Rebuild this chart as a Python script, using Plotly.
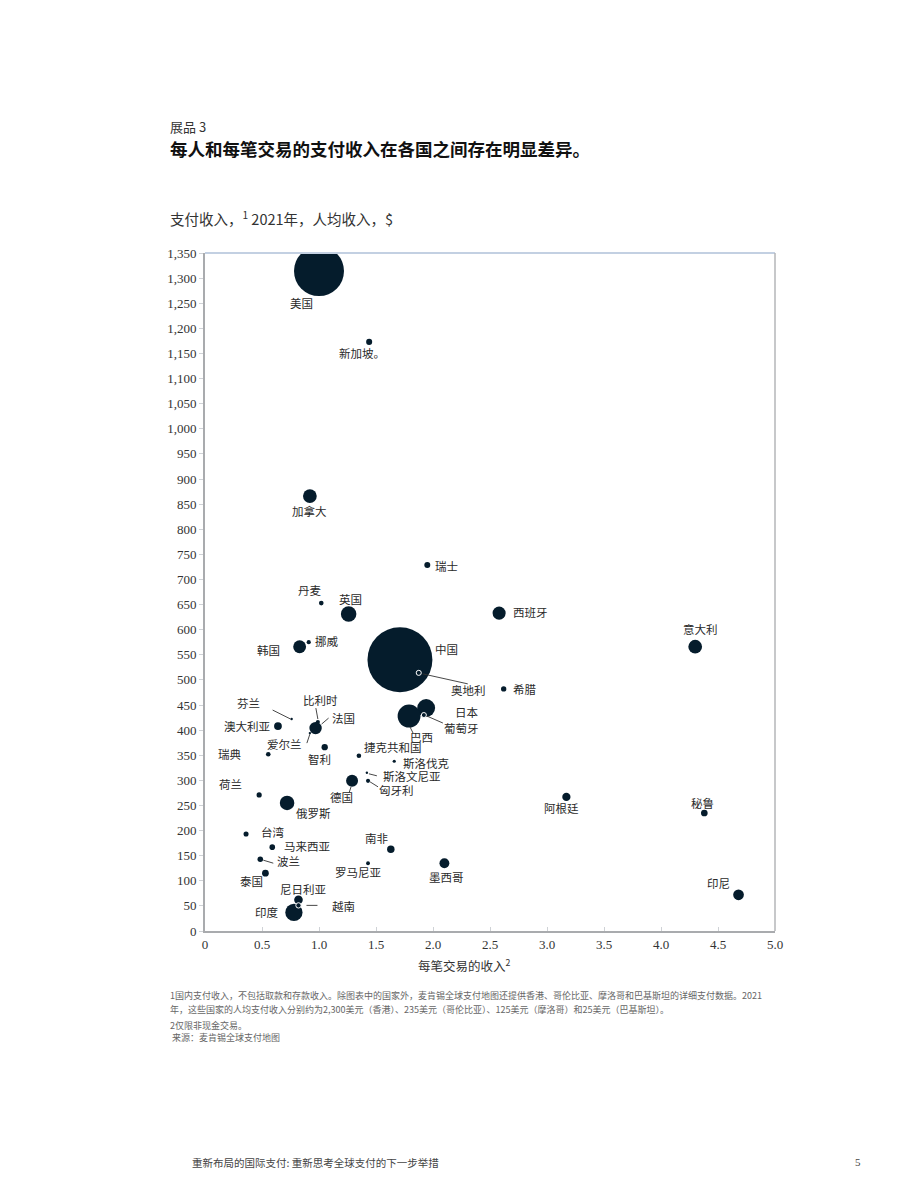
import plotly.graph_objects as go

# revenue per transaction ($), payments revenue per capita ($, 2021), total payments revenue ($bn, bubble size)
countries = ['美国', '新加坡。', '加拿大', '瑞士', '丹麦', '英国', '西班牙', '意大利', '挪威', '韩国',
             '中国', '奥地利', '希腊', '日本', '巴西', '葡萄牙', '芬兰', '比利时', '法国', '澳大利亚',
             '爱尔兰', '智利', '瑞典', '捷克共和国', '斯洛伐克', '斯洛文尼亚', '匈牙利', '德国', '荷兰', '俄罗斯',
             '台湾', '马来西亚', '南非', '波兰', '罗马尼亚', '墨西哥', '泰国', '尼日利亚', '越南', '印度',
             '阿根廷', '秘鲁', '印尼']
rev_per_tx = [1.00, 1.44, 0.92, 1.95, 1.02, 1.26, 2.58, 4.30, 0.91, 0.83,
              1.71, 1.875, 2.62, 1.94, 1.79, 1.92, 0.76, 0.99, 0.97, 0.64,
              0.92, 1.05, 0.555, 1.35, 1.66, 1.42, 1.43, 1.29, 0.475, 0.72,
              0.36, 0.59, 1.63, 0.485, 1.43, 2.10, 0.53, 0.82, 0.82, 0.78,
              3.17, 4.38, 4.68]
rev_per_capita = [1314, 1173, 866, 729, 653, 631, 633, 566, 575, 566,
                  540, 514, 482, 444, 428, 430, 422, 416, 404, 408,
                  394, 366, 352, 349, 338, 315, 299, 299, 271, 255,
                  193, 167, 163, 143, 135, 135, 115, 62, 51, 37,
                  267, 235, 72]
total_rev = [437, 6.4, 33, 6.3, 3.8, 42, 30, 33, 3.1, 29,
             738, 4.6, 5.0, 56, 92, 4.4, 1.0, 3.0, 27, 10.6,
             1.0, 7.0, 3.7, 3.7, 1.8, 0.7, 2.9, 25, 4.7, 37,
             4.5, 5.5, 9.8, 5.4, 2.6, 17, 8.0, 13, 5.0, 52,
             12, 7.8, 20]
hollow = ['奥地利', '葡萄牙', '越南']

x_ticks = [0, 0.5, 1.0, 1.5, 2.0, 2.5, 3.0, 3.5, 4.0, 4.5, 5.0]
x_ticktext = ['0', '0.5', '1.0', '1.5', '2.0', '2.5', '3.0', '3.5', '4.0', '4.5', '5.0']
y_ticks = list(range(0, 1351, 50))

NAVY = '#051c2c'
CJK = 'Noto Sans CJK SC'
NUM = 'Liberation Serif, Noto Sans CJK SC'

# label centre offset in screen pixels from the bubble centre
label_pos = {
    '美国': (-18, 32), '新加坡。': (-7, 11), '加拿大': (0, 15), '瑞士': (19, 1),
    '丹麦': (-11, -13), '英国': (2, -15), '西班牙': (31, -1), '意大利': (5, -18),
    '挪威': (18, -1), '韩国': (-31, 3), '中国': (47, -11), '奥地利': (50, 17),
    '希腊': (21, 0), '日本': (41, 4), '巴西': (12, 21), '葡萄牙': (38, 13),
    '芬兰': (-43, -16), '比利时': (3, -22), '法国': (28, -10), '澳大利亚': (-31, 0),
    '爱尔兰': (-25, 11), '智利': (-5, 12), '瑞典': (-38, 0), '捷克共和国': (34, -9),
    '斯洛伐克': (32, 2), '斯洛文尼亚': (45, 3), '匈牙利': (28, 9), '德国': (-11, 16),
    '荷兰': (-29, -11), '俄罗斯': (26, 10), '台湾': (27, -2), '马来西亚': (35, -1),
    '南非': (-14, -11), '波兰': (28, 2), '罗马尼亚': (-10, 9), '墨西哥': (2, 14),
    '泰国': (-14, 8), '尼日利亚': (5, -11), '越南': (45, 1), '印度': (-27, 0),
    '阿根廷': (-5, 11), '秘鲁': (-2, -10), '印尼': (-20, -12),
}
# leader lines: start/end offsets in screen pixels from the bubble centre
leaders = {
    '奥地利': (4, 1, 49, 11), '巴西': (1, 11, 4, 17), '葡萄牙': (3, 1, 19, 8),
    '芬兰': (-1, 0, -19, -9), '比利时': (0, -3, -2, -14), '法国': (6, -4, 13, -10),
    '爱尔兰': (0, 1, -3, 10), '斯洛文尼亚': (2, 1, 10, 3), '匈牙利': (2, 1, 10, 6),
    '德国': (-1, 6, -3, 12), '波兰': (3, 1, 13, 4), '越南': (8, 0, 19, 0),
}

SIZEREF = 0.35

fig = go.Figure()
solid = [i for i, c in enumerate(countries) if c not in hollow]
rings = [i for i, c in enumerate(countries) if c in hollow]
fig.add_trace(go.Scatter(
    x=[rev_per_tx[i] for i in solid],
    y=[rev_per_capita[i] for i in solid],
    text=[countries[i] for i in solid],
    mode='markers',
    marker=dict(size=[total_rev[i] for i in solid], sizemode='area', sizeref=SIZEREF,
                sizemin=1.2, color=NAVY, opacity=1, line=dict(width=0)),
    hoverinfo='text', showlegend=False))
fig.add_trace(go.Scatter(
    x=[rev_per_tx[i] for i in rings],
    y=[rev_per_capita[i] for i in rings],
    text=[countries[i] for i in rings],
    mode='markers',
    marker=dict(size=[total_rev[i] for i in rings], sizemode='area', sizeref=SIZEREF,
                color=NAVY, opacity=1, line=dict(width=1, color='#ffffff')),
    hoverinfo='text', showlegend=False))

for name, xv, yv in zip(countries, rev_per_tx, rev_per_capita):
    dx, dy = label_pos[name]
    fig.add_annotation(x=xv, y=yv, text=name, showarrow=False,
                       xanchor='center', yanchor='middle', xshift=dx, yshift=-dy,
                       font=dict(family=CJK, size=11.5, color='#2a2a2a'))
    if name in leaders:
        x0, y0, x1, y1 = leaders[name]
        fig.add_shape(type='line', xref='x', yref='y', xsizemode='pixel', ysizemode='pixel',
                      xanchor=xv, yanchor=yv, x0=x0, x1=x1, y0=-y0, y1=-y1,
                      line=dict(color='#333333', width=0.9))


def px(x):
    return (x - 205) / 570


def py(y):
    return (931 - y) / 678


texts = [
    ('展品 3', 168, 127, 13, '#333333'),
    ('<b>每人和每笔交易的支付收入在各国之间存在明显差异。</b>', 168, 148, 17.5, '#111111'),
    ('支付收入，<sup>1</sup> 2021年，人均收入，$', 168, 218, 14.5, '#333333'),
    ('1国内支付收入，不包括取款和存款收入。除图表中的国家外，麦肯锡全球支付地图还提供香港、哥伦比亚、摩洛哥和巴基斯坦的详细支付数据。2021',
     168, 995, 9, '#666666'),
    ('年，这些国家的人均支付收入分别约为2,300美元（香港）、235美元（哥伦比亚）、125美元（摩洛哥）和25美元（巴基斯坦）。',
     168, 1009, 9, '#666666'),
    ('2仅限非现金交易。', 168, 1025, 9, '#666666'),
    (' 来源：麦肯锡全球支付地图', 168, 1037, 9, '#666666'),
    ('重新布局的国际支付: 重新思考全球支付的下一步举措', 190, 1162, 10.5, '#444444'),
    ('5', 853, 1162, 11, '#444444'),
    ('每笔交易的收入<sup>2</sup>', 416, 966, 12.5, '#333333'),
]
for t, x0, y0, size, color in texts:
    fig.add_annotation(x=px(x0), y=py(y0), xref='paper', yref='paper', text=t,
                       showarrow=False, xanchor='left', yanchor='middle',
                       font=dict(family=NUM if t == '5' else CJK, size=size, color=color))

# plot frame: light top border, grey right border
fig.add_shape(type='line', xref='paper', yref='paper', x0=0, x1=1, y0=1, y1=1,
              line=dict(color='#c3d0e2', width=2))
fig.add_shape(type='line', xref='paper', yref='paper', x0=1, x1=1, y0=0, y1=1,
              line=dict(color='#b4b6b9', width=1.5))

# the page adds an 8px body margin, so the figure is slightly smaller than the window
fig.update_layout(
    width=904, height=1175,
    margin=dict(l=197, r=137, t=245, b=252),
    plot_bgcolor='white', paper_bgcolor='white',
    font=dict(family=NUM, size=13, color='#333333'),
    xaxis=dict(range=[0, 5], tickvals=x_ticks, ticktext=x_ticktext, showgrid=False,
               zeroline=False, showline=True, linecolor='#a9abae', linewidth=2,
               ticks='inside', ticklen=4, tickcolor='#cfd2d6', tickwidth=1,
               tickfont=dict(family=NUM, size=13, color='#333333')),
    yaxis=dict(range=[0, 1350], tickvals=y_ticks, tickformat=',', showgrid=False,
               zeroline=False, showline=True, linecolor='#a9abae', linewidth=2,
               ticks='outside', ticklen=4, tickcolor='#cfd2d6', tickwidth=1,
               tickfont=dict(family=NUM, size=13, color='#333333')),
)

fig.write_html('out.html')
